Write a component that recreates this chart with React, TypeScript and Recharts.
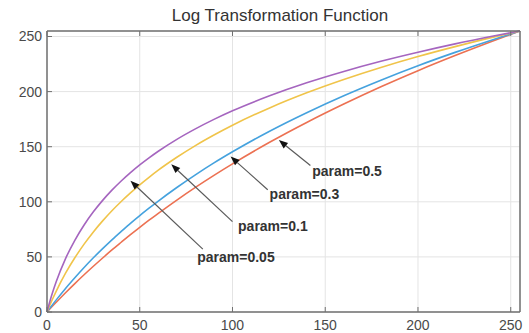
import React from 'react';
import {
  LineChart,
  Line,
  XAxis,
  YAxis,
  CartesianGrid,
  ReferenceLine,
  ReferenceDot,
} from 'recharts';

// input intensity r and output s for each log parameter
const intensity = [0, 1, 2, 3, 5, 10, 15, 20, 25, 30, 35, 40, 45, 50, 55, 60, 70, 80, 90, 100, 120, 140, 160, 180, 200, 220, 240, 255];
const param005 = [0, 6.3, 12.2, 17.7, 27.7, 48.5, 65.1, 79, 90.9, 101.3, 110.6, 118.9, 126.5, 133.5, 139.9, 145.9, 156.7, 166.2, 174.8, 182.6, 196.2, 208, 218.3, 227.5, 235.7, 243.3, 250.2, 255];
const param01 = [0, 4.1, 8, 11.8, 19, 35.2, 49.2, 61.6, 72.7, 82.7, 91.9, 100.3, 108.1, 115.4, 122.2, 128.7, 140.4, 151, 160.6, 169.5, 185.2, 198.9, 211, 221.9, 231.8, 240.8, 249.2, 255];
const param03 = [0, 2.3, 4.5, 6.7, 11, 21.4, 31.1, 40.4, 49.2, 57.5, 65.5, 73.1, 80.5, 87.5, 94.2, 100.7, 113, 124.5, 135.3, 145.4, 164.1, 180.9, 196.3, 210.4, 223.5, 235.6, 246.9, 255];
const param05 = [0, 1.8, 3.6, 5.4, 8.9, 17.5, 25.8, 33.8, 41.5, 49, 56.3, 63.3, 70.2, 76.8, 83.3, 89.5, 101.6, 113.1, 124, 134.4, 154, 172, 188.7, 204.4, 219, 232.7, 245.7, 255];

const axisTicks = [0, 50, 100, 150, 200, 250];

// annotation arrows (data coords)
const noteLabels = ['param=0.05', 'param=0.1', 'param=0.3', 'param=0.5'];
const noteHeadX = [45, 67, 99, 125];
const noteHeadY = [119, 134, 141, 156];
const noteTailX = [84, 100, 119, 142];
const noteTailY = [57, 82, 111, 133];
const noteTextX = [81, 103, 120, 143];
const noteTextY = [50, 78, 107, 128];

const data = intensity.map((r, i) => ({
  r,
  p005: param005[i],
  p01: param01[i],
  p03: param03[i],
  p05: param05[i],
}));

const FONT = '"Liberation Sans", Arial, sans-serif';
const AXIS = '#707070';

const Arrow = (props: any) => {
  const { x1, y1, x2, y2 } = props;
  const dx = x2 - x1;
  const dy = y2 - y1;
  const len = Math.sqrt(dx * dx + dy * dy) || 1;
  const ux = dx / len;
  const uy = dy / len;
  const hl = 9;
  const hw = 3.5;
  const bx = x2 - ux * hl;
  const by = y2 - uy * hl;
  const pts = `${x2},${y2} ${bx - uy * hw},${by + ux * hw} ${bx + uy * hw},${by - ux * hw}`;
  return (
    <g>
      <line x1={x1} y1={y1} x2={bx} y2={by} stroke="#5a5a5a" strokeWidth={1.2} />
      <polygon points={pts} fill="#111" />
    </g>
  );
};

export default function App() {
  return (
    <div style={{ position: 'absolute', left: 0, top: 0, width: 529, height: 333, background: '#fff' }}>
      <div
        style={{
          position: 'absolute',
          left: 0,
          width: 560,
          top: 5,
          textAlign: 'center',
          fontFamily: FONT,
          fontSize: 17,
          color: '#333',
          lineHeight: '22px',
        }}
      >
        Log Transformation Function
      </div>
      <LineChart width={529} height={333} data={data} margin={{ top: 31, right: 9, left: 0, bottom: 0 }}>
        <CartesianGrid stroke="#e4e4e4" />
        <XAxis
          dataKey="r"
          type="number"
          domain={[0, 255]}
          ticks={axisTicks}
          height={21}
          stroke={AXIS}
          axisLine={{ stroke: AXIS, strokeWidth: 1.5 }}
          tickSize={-5}
          tickMargin={13}
          tick={{ fill: '#4a4a4a', fontSize: 14, fontFamily: FONT }}
        />
        <YAxis
          type="number"
          domain={[0, 255]}
          ticks={axisTicks}
          width={47}
          stroke={AXIS}
          axisLine={{ stroke: AXIS, strokeWidth: 1.5 }}
          tickSize={-5}
          tickMargin={10}
          tick={{ fill: '#4a4a4a', fontSize: 14, fontFamily: FONT }}
        />
        <XAxis
          xAxisId="t"
          orientation="top"
          mirror
          dataKey="r"
          type="number"
          domain={[0, 255]}
          ticks={axisTicks}
          stroke={AXIS}
          axisLine={{ stroke: AXIS, strokeWidth: 1.5 }}
          tickSize={5}
          tick={() => <g />}
        />
        <YAxis
          yAxisId="r"
          orientation="right"
          mirror
          type="number"
          domain={[0, 255]}
          ticks={axisTicks}
          stroke={AXIS}
          axisLine={{ stroke: AXIS, strokeWidth: 1.5 }}
          tickSize={5}
          tick={() => <g />}
        />
        <Line dataKey="p05" type="monotone" stroke="#ec7152" strokeWidth={1.6} dot={false} isAnimationActive={false} />
        <Line dataKey="p03" type="monotone" stroke="#45a2de" strokeWidth={1.6} dot={false} isAnimationActive={false} />
        <Line dataKey="p01" type="monotone" stroke="#f0c44a" strokeWidth={1.6} dot={false} isAnimationActive={false} />
        <Line dataKey="p005" type="monotone" stroke="#a565bf" strokeWidth={1.6} dot={false} isAnimationActive={false} />
        {noteLabels.map((label, i) => (
          <ReferenceLine
            key={`arrow-${i}`}
            segment={[
              { x: noteTailX[i], y: noteTailY[i] },
              { x: noteHeadX[i], y: noteHeadY[i] },
            ]}
            shape={Arrow}
          />
        ))}
        {noteLabels.map((label, i) => (
          <ReferenceDot
            key={`text-${i}`}
            x={noteTextX[i]}
            y={noteTextY[i]}
            r={0}
            shape={(p: any) => (
              <text
                x={p.cx}
                y={p.cy}
                dominantBaseline="central"
                fontFamily={FONT}
                fontSize={14}
                fontWeight="bold"
                fill="#333"
              >
                {label}
              </text>
            )}
          />
        ))}
      </LineChart>
    </div>
  );
}
